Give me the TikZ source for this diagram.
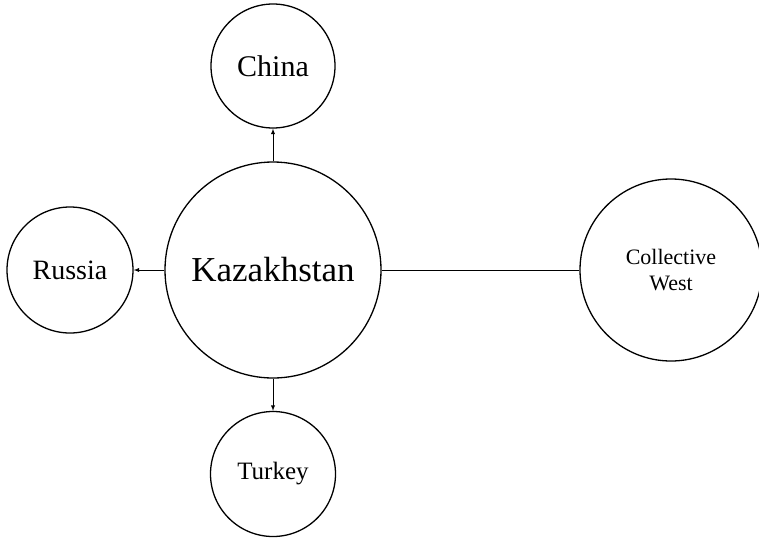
\documentclass[tikz,border=0pt]{standalone}
\usepackage{fontspec}
\setmainfont{Liberation Serif}
\usepackage{tikz}
\usetikzlibrary{shapes,arrows,positioning}

\begin{document}
\begin{tikzpicture}[
    x=1pt, y=1pt,
    state/.style={draw, circle, line width=1.3pt, inner sep=0pt, align=center},
    link/.style={line width=0.9pt},
    >=latex,
]
    \useasboundingbox (0,0) rectangle (759,-541);

    % Countries
    \node[state, minimum size=216pt, font=\fontsize{35}{40}\selectfont] (kaz) at (273,-270) {Kazakhstan};
    \node[state, minimum size=124pt, font=\fontsize{30}{34}\selectfont] (china) at (273,-66) {China};
    \node[state, minimum size=126pt, font=\fontsize{28}{32}\selectfont] (russia) at (70,-270) {Russia};
    \node[state, minimum size=125pt, font=\fontsize{25}{29}\selectfont] (turkey) at (273,-474) {Turkey};
    \node[state, minimum size=182pt, font=\fontsize{22}{26}\selectfont] (west) at (671,-270) {Collective\\West};

    % Links
    \draw[link, ->] (kaz) -- (china);
    \draw[link, ->] (kaz) -- (russia);
    \draw[link, ->] (kaz) -- (turkey);
    \draw[link] (kaz) -- (west);
\end{tikzpicture}
\end{document}
